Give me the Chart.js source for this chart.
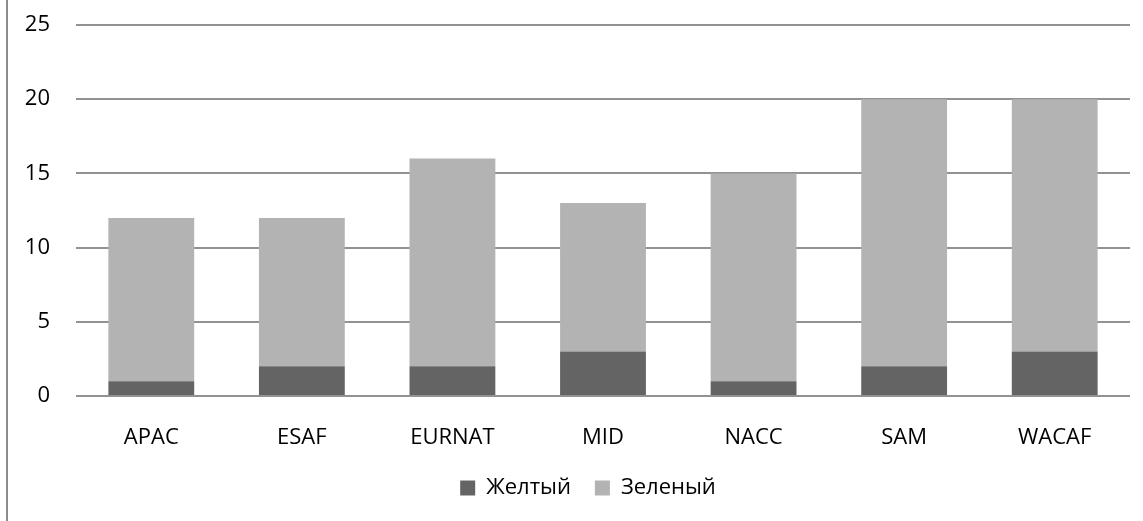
<!DOCTYPE html>
<html>
<head>
<meta charset="utf-8">
<script src="https://cdn.jsdelivr.net/npm/chart.js@4"></script>
<style>
  html, body { margin: 0; padding: 0; background: #fff; }
  .wrap { position: relative; width: 1143px; height: 521px; }
  .wrap::before {
    content: ""; position: absolute; left: 6px; top: 0; bottom: 0;
    border-left: 2px solid #8c8c8c;
  }
</style>
</head>
<body>
<div class="wrap"><canvas id="chart" width="1143" height="521"></canvas></div>
<script>
// ── Data ─────────────────────────────────────────────────
const categories = ["APAC", "ESAF", "EURNAT", "MID", "NACC", "SAM", "WACAF"];
const yellow = [1, 2, 2, 3, 1, 2, 3];
const green = [11, 10, 14, 10, 14, 18, 17];
const yTicks = [0, 5, 10, 15, 20, 25];

const FONT = "'Open Sans', 'Noto Sans', sans-serif";
const SIZE = 22;

// legendata e malku polevo kaj originalot
const legendNudge = {
  id: "legendNudge",
  afterLayout(c) { c.legend.left -= 30; },
};

new Chart(document.getElementById("chart"), {
  type: "bar",
  data: {
    labels: categories,
    datasets: [
      { label: "Желтый", data: yellow, backgroundColor: "#646464" },
      { label: "Зеленый", data: green, backgroundColor: "#b3b3b3" },
    ],
  },
  plugins: [legendNudge],
  options: {
    responsive: false,
    animation: false,
    layout: { padding: { top: 25, right: 13, left: 0, bottom: 12 } },
    datasets: { bar: { categoryPercentage: 1, barPercentage: 0.57 } },
    plugins: {
      legend: {
        position: "bottom",
        fullSize: false,
        labels: {
          color: "#000",
          font: { family: FONT, size: SIZE },
          boxWidth: 15,
          boxHeight: 15,
          padding: 24,
        },
      },
      tooltip: { enabled: false },
    },
    scales: {
      x: {
        stacked: true,
        grid: { display: false },
        border: { display: false },
        afterFit: (s) => { s.height = 57; s.paddingLeft = 0; s.paddingRight = 0; },
        ticks: { color: "#000", font: { family: FONT, size: SIZE }, padding: 21 },
      },
      y: {
        stacked: true,
        min: 0,
        max: 25,
        afterBuildTicks: (s) => { s.ticks = yTicks.map((v) => ({ value: v })); },
        afterFit: (s) => { s.width = 76; s.paddingTop = 0; s.paddingBottom = 0; },
        grid: { color: "#929292", lineWidth: 2, drawTicks: false },
        border: { display: false },
        ticks: { color: "#000", font: { family: FONT, size: SIZE }, padding: 26 },
      },
    },
  },
});
</script>
</body>
</html>
